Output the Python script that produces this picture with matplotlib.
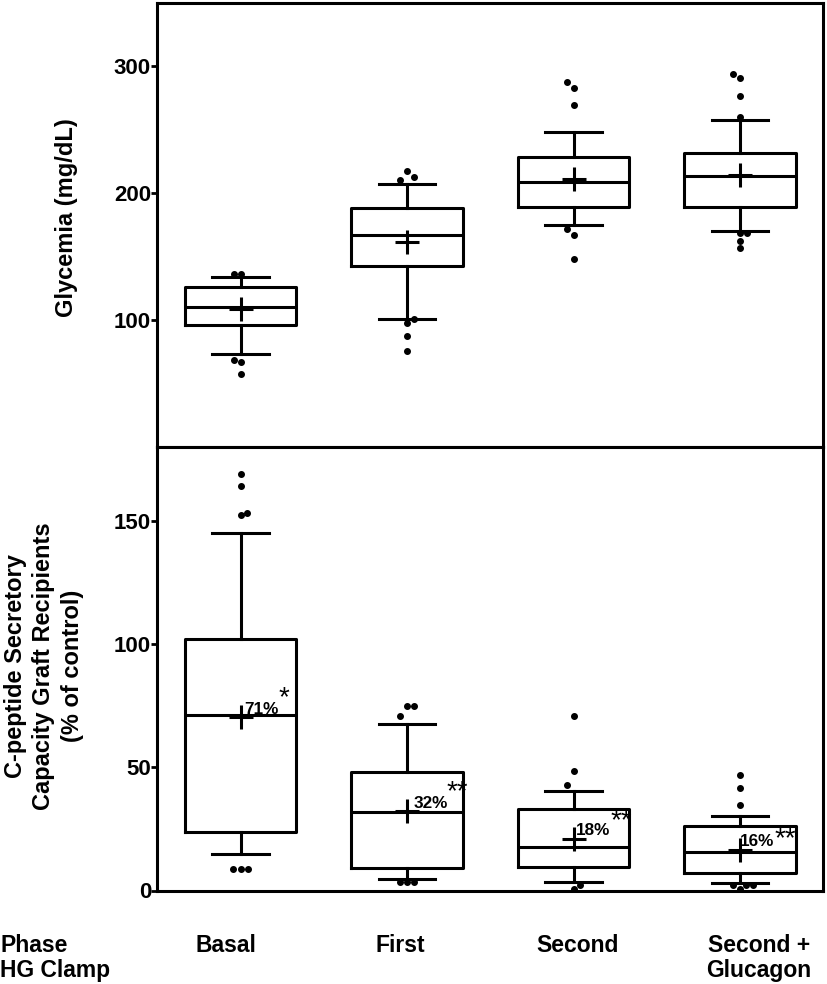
import matplotlib
matplotlib.use("Agg")
import matplotlib.pyplot as plt

# ---------------- data ----------------
categories = ["Basal", "First", "Second", "Second +\nGlucagon"]

glyc_q1 = [96.1, 142.9, 189.0, 189.0]
glyc_med = [110.1, 167.4, 209.0, 213.5]
glyc_q3 = [126.4, 188.2, 228.7, 231.5]
glyc_wlo = [73.2, 100.7, 175.3, 170.4]
glyc_whi = [133.8, 207.3, 248.2, 257.5]
glyc_mean = [108.5, 161.4, 211.4, 214.8]
glyc_out = [[136.4, 136.4, 68.5, 66.7, 57.5],
            [217.7, 212.7, 210.6, 100.7, 97.5, 87.4, 75.4],
            [287.9, 282.9, 269.8, 171.7, 167.4, 148.5],
            [294.2, 290.8, 276.6, 260.1, 168.5, 168.5, 162.7, 156.7]]
glyc_out_jit = [[-0.04, 0, -0.04, 0, 0],
                [0, 0.04, -0.04, 0.04, 0, 0, 0],
                [-0.04, 0, 0, -0.04, 0, 0],
                [-0.04, 0, 0, 0, 0, 0.04, 0, 0]]

cpep_q1 = [23.6, 9.2, 9.6, 7.3]
cpep_med = [71.3, 31.7, 17.7, 15.5]
cpep_q3 = [102.2, 48.2, 33.2, 26.1]
cpep_wlo = [15.0, 4.6, 3.5, 3.1]
cpep_whi = [145.0, 67.5, 40.4, 30.3]
cpep_mean = [70.4, 32.2, 20.9, 16.6]
cpep_out = [[169.2, 164.2, 153.3, 152.2, 8.6, 8.6, 8.6],
            [74.9, 74.9, 70.8, 3.4, 3.4, 3.4],
            [70.8, 48.6, 42.7, 2.4, 0.7],
            [46.8, 41.7, 34.7, 2.3, 2.3, 2.3, 0.7]]
cpep_out_jit = [[0, 0, 0.04, 0, -0.044, 0, 0.044],
                [0, 0.04, -0.04, -0.044, 0, 0.044],
                [0, 0, -0.04, 0.04, 0],
                [0, 0, 0, -0.042, 0.036, 0.078, 0]]

pct_labels = ["71%", "32%", "18%", "16%"]
pct_y = [71.7, 33.6, 22.7, 17.9]
star_labels = ["*", "**", "**", "**"]
star_y = [80.2, 42.1, 30.5, 23.1]

glyc_ticks = [100, 200, 300]
cpep_ticks = [0, 50, 100, 150]

# ---------------- figure ----------------
W, H = 827, 984
fig = plt.figure(figsize=(W / 100, H / 100), dpi=100)

BOLD = ["Liberation Sans", "DejaVu Sans"]

left, right = 157.3 / W, 823.3 / W
ax1 = fig.add_axes([left, 1 - 447 / H, right - left, (447 - 3) / H])
ax2 = fig.add_axes([left, 1 - 890.5 / H, right - left, (890.5 - 447) / H])

LW = 2.2
positions = [1, 2, 3, 4]
pct_dx = [0.022, 0.04, 0.016, 0.0]
star_dx = [0.26, 0.30, 0.285, 0.27]


def draw(ax, q1, med, q3, wlo, whi, mean, outs, jits, ylim, ticks):
    stats = []
    for i in range(len(positions)):
        stats.append(dict(med=med[i], q1=q1[i], q3=q3[i], whislo=wlo[i],
                          whishi=whi[i], mean=mean[i], fliers=[]))
    ax.bxp(stats, positions=positions, widths=0.67, capwidths=0.34,
           showmeans=True, showfliers=False, patch_artist=False,
           boxprops=dict(color="black", linewidth=LW),
           medianprops=dict(color="black", linewidth=LW),
           whiskerprops=dict(color="black", linewidth=LW),
           capprops=dict(color="black", linewidth=LW),
           meanprops=dict(marker="+", markersize=17, markeredgewidth=2.2,
                          markeredgecolor="black", markerfacecolor="black"))
    for i, p in enumerate(positions):
        xs = [p + j for j in jits[i]]
        ax.plot(xs, outs[i], linestyle="none", marker="o", markersize=4,
                color="black", zorder=3)
    ax.set_xlim(0.5, 4.5)
    ax.set_ylim(*ylim)
    ax.set_xticks([])
    ax.set_yticks(ticks)
    ax.set_yticklabels([str(t) for t in ticks], fontfamily=BOLD,
                       fontweight="bold", fontsize=16)
    ax.tick_params(axis="y", direction="out", length=4, width=2.0, pad=0.5)
    for s in ax.spines.values():
        s.set_linewidth(2.2)


draw(ax1, glyc_q1, glyc_med, glyc_q3, glyc_wlo, glyc_whi, glyc_mean,
     glyc_out, glyc_out_jit, (0, 350), glyc_ticks)
draw(ax2, cpep_q1, cpep_med, cpep_q3, cpep_wlo, cpep_whi, cpep_mean,
     cpep_out, cpep_out_jit, (0, 180), cpep_ticks)

for i, p in enumerate(positions):
    ax2.text(p + pct_dx[i], pct_y[i], pct_labels[i], fontfamily=BOLD,
             fontweight="bold", fontsize=12.3, ha="left", va="baseline")
    ax2.annotate(star_labels[i], xy=(p + star_dx[i], star_y[i]),
                 xytext=(0, -4), textcoords="offset points",
                 fontfamily=BOLD, fontsize=20, ha="center", va="center")

# y labels
fig.text(66 / W, 1 - 218 / H, "Glycemia (mg/dL)", rotation=90,
         ha="center", va="center", fontfamily=BOLD, fontweight="bold",
         fontsize=17)
fig.text(44 / W, 1 - 666 / H,
         "C-peptide Secretory\nCapacity Graft Recipients\n(% of control)",
         rotation=90, ha="center", va="center", multialignment="center",
         fontfamily=BOLD, fontweight="bold", fontsize=17, linespacing=1.28)

# bottom row labels
row1, row2 = 1 - 951.5 / H, 1 - 977.5 / H
fig.text(0, row1, "Phase", ha="left", va="baseline", fontfamily=BOLD,
         fontweight="bold", fontsize=16.5)
fig.text(0, row2, "HG Clamp", ha="left", va="baseline", fontfamily=BOLD,
         fontweight="bold", fontsize=16.5)
label_x = [226, 400.4, 578, 759]
for i, c in enumerate(categories):
    lines = c.split("\n")
    for k, ln in enumerate(lines):
        fig.text(label_x[i] / W, row1 if k == 0 else row2, ln, ha="center",
                 va="baseline", fontfamily=BOLD, fontweight="bold",
                 fontsize=16.5)

fig.savefig("out.png", dpi=100)
